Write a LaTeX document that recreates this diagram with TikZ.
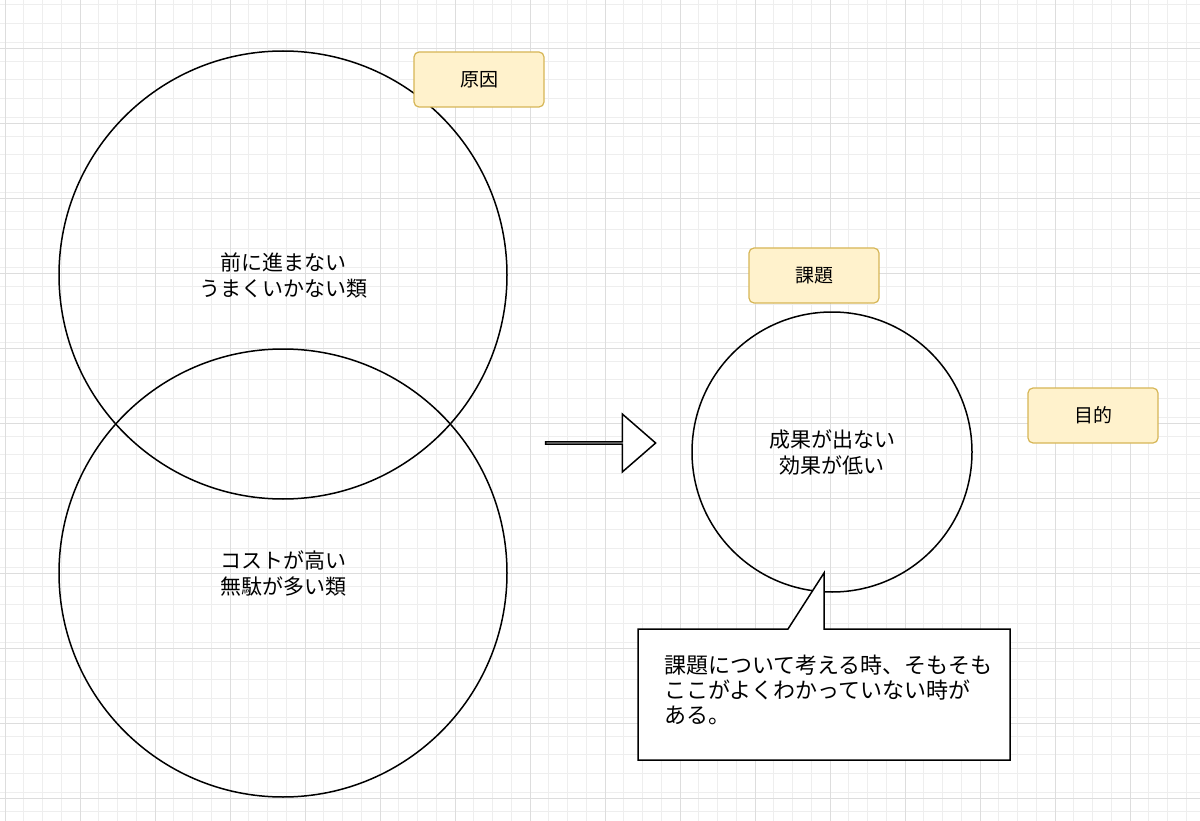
\documentclass[tikz,border=0pt]{standalone}
\usepackage{fontspec}
\setmainfont{Noto Sans CJK JP}
\usetikzlibrary{shapes.arrows}
\definecolor{gridminor}{HTML}{EEEEEE}
\definecolor{gridmajor}{HTML}{DDDDDD}
\definecolor{tagfill}{HTML}{FFF2CC}
\definecolor{tagline}{HTML}{D6B656}
\begin{document}
\begin{tikzpicture}[x=1pt,y=-1pt,
  circ/.style={draw=black,line width=1.5pt,circle,inner sep=0pt},
  tag/.style={draw=tagline,fill=tagfill,line width=1.2pt,rounded corners=5pt,minimum width=130pt,minimum height=55pt,font=\fontsize{19}{23}\selectfont},
  txt/.style={align=center,font=\fontsize{21}{26}\selectfont}]
\fill[white] (0,0) rectangle (1200,821);
\useasboundingbox (0,0) rectangle (1200,821);
\foreach \i in {0,...,64} {\draw[gridminor,line width=0.6pt] ({5+18.75*\i},0) -- ({5+18.75*\i},821);}
\foreach \i in {0,...,44} {\draw[gridminor,line width=0.6pt] (0,{4.75+18.75*\i}) -- (1200,{4.75+18.75*\i});}
\foreach \i in {0,...,16} {\draw[gridmajor,line width=0.8pt] ({5+75*\i},0) -- ({5+75*\i},821);}
\foreach \i in {0,...,11} {\draw[gridmajor,line width=0.8pt] (0,{48+75*\i}) -- (1200,{48+75*\i});}
\node[circ,minimum size=448pt] (c1) at (283,275) {};
\node[circ,minimum size=448pt] (c2) at (283,573) {};
\node[txt] (t1) at (283,275) {前に進まない\\うまくいかない類};
\node[txt] (t2) at (283,573) {コストが高い\\無駄が多い類};
\node[tag] (g1) at (479,79.5) {原因};
\node[circ,minimum size=280pt] (c3) at (832,452) {};
\node[txt] (t3) at (832,452) {成果が出ない\\効果が低い};
\node[tag] (g2) at (814,275.5) {課題};
\node[tag] (g3) at (1093,415.5) {目的};
\node[single arrow,draw=black,fill=white,line width=1.5pt,minimum width=58pt,single arrow head extend=19pt,single arrow tip angle=82,minimum height=110pt,inner sep=0pt] (ar) at (600,443) {};
\coordinate (p1) at (788,629);
\coordinate (p2) at (824,573);
\coordinate (p3) at (824,629);
\draw[line width=1.5pt,fill=white] (638,629) -- (p1) -- (p2) -- (p3) -- (1010,629) -- (1010,760) -- (638,760) -- cycle;
\node[anchor=north west,align=left,font=\fontsize{22}{25}\selectfont,inner sep=0pt] (ct) at (664,655) {課題について考える時、そもそも\\ここがよくわかっていない時が\\ある。};
\end{tikzpicture}
\end{document}
